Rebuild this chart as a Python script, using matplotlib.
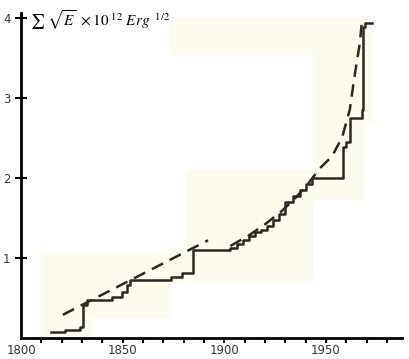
import matplotlib
matplotlib.use("Agg")
import matplotlib.pyplot as plt
from matplotlib.patches import Rectangle

# Stepped cumulative curve (year, value)
step_years = [1815, 1821.7, 1829, 1830.5, 1832.4, 1845, 1849.7, 1852, 1853.6, 1856, 1874, 1879,
              1884.6, 1903, 1906, 1909, 1912, 1915, 1918, 1921, 1924, 1927, 1930, 1934, 1937,
              1940, 1943, 1958.3, 1960, 1962, 1967.6, 1968.3, 1969, 1972.5]
step_vals = [0.07, 0.10, 0.14, 0.41, 0.47, 0.51, 0.57, 0.66, 0.72, 0.73, 0.76, 0.81,
             1.10, 1.13, 1.18, 1.22, 1.27, 1.32, 1.35, 1.40, 1.48, 1.55, 1.70, 1.78, 1.85,
             1.92, 2.00, 2.39, 2.45, 2.75, 2.85, 3.89, 3.94, 3.94]

# Dashed trend: straight part and curved part
trend1_years = [1820.6, 1892]
trend1_vals = [0.29, 1.22]
trend2_years = [1903, 1912, 1920, 1928, 1935, 1941, 1947, 1953, 1958, 1961.7, 1964, 1966.7, 1967.6]
trend2_vals = [1.15, 1.28, 1.42, 1.58, 1.75, 1.92, 2.12, 2.27, 2.51, 2.85, 3.26, 3.69, 3.94]

W, H = 409, 359
fig = plt.figure(figsize=(W / 100, H / 100), dpi=100)

# scanned-paper background patches (pixel boxes: x0, y0, x1, y1)
paper = "#fcfbee"
for x0, y0, x1, y1 in [(41, 253, 171, 318), (41, 318, 92, 338), (171, 247, 186, 283),
                       (186, 170, 313, 282), (171, 18, 372, 55), (313, 55, 364, 200),
                       (364, 55, 372, 125)]:
    fig.add_artist(Rectangle((x0 / W, 1 - y1 / H), (x1 - x0) / W, (y1 - y0) / H,
                             transform=fig.transFigure, color=paper, zorder=0, lw=0))

ax = fig.add_axes([21 / W, 21 / H, 381 / W, 325 / H])
ax.patch.set_alpha(0)

line_col = "#2b2824"
ax.step(step_years, step_vals, where="post", color=line_col, lw=1.8)
ax.plot(trend1_years, trend1_vals, color=line_col, lw=1.8, dashes=(5, 3))
ax.plot(trend2_years, trend2_vals, color=line_col, lw=1.8, dashes=(5, 3))

ax.set_xlim(1800, 1987.4)
ax.set_ylim(0, 4.06)
ax.spines["top"].set_visible(False)
ax.spines["right"].set_visible(False)
ax.spines["left"].set_linewidth(2)
ax.spines["bottom"].set_linewidth(2)

ax.set_xticks([1800, 1850, 1900, 1950])
ax.set_xticks(range(1810, 1990, 10), minor=True)
ax.set_yticks([1, 2, 3, 4])
ax.tick_params(which="both", width=1.5, labelsize=8.5, labelcolor="#333333")
ax.tick_params(axis="x", which="both", direction="out", length=3.5)
ax.tick_params(axis="x", which="major", pad=0.5)
ax.tick_params(axis="y", direction="inout", length=8)
ax.get_xticklines()[0].set_visible(False)

plt.rcParams["mathtext.fontset"] = "stix"
fig.text(30 / W, 1 - 26 / H, r"$\sum\ \sqrt{E}\ \times 10^{\ 12}\ Erg^{\ \ 1/2}$",
         fontsize=11, ha="left", va="baseline")

fig.savefig("out.png", dpi=100)
